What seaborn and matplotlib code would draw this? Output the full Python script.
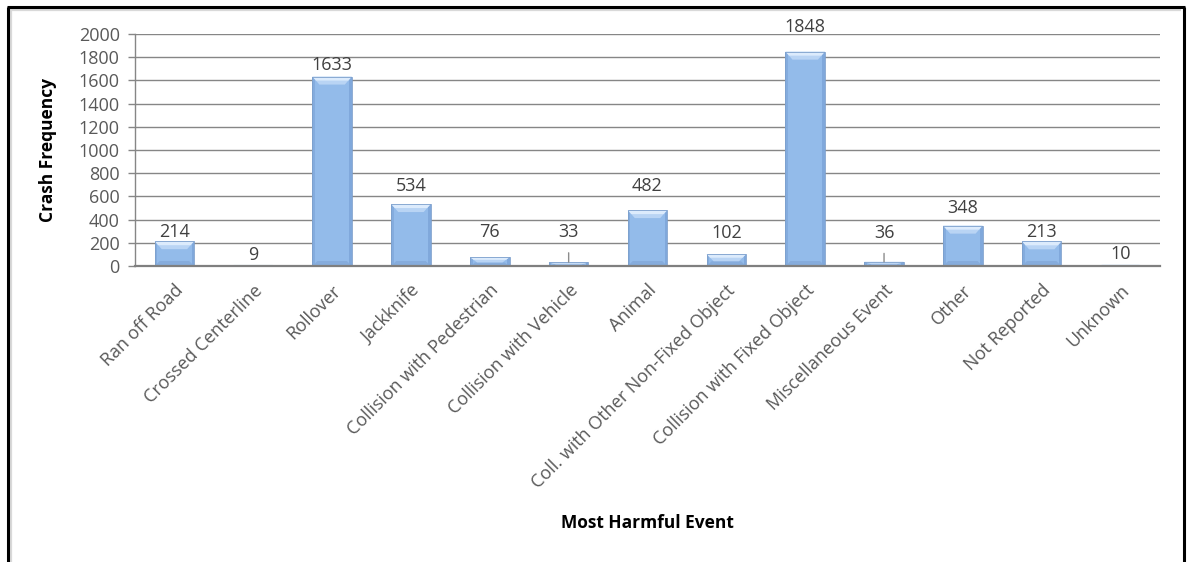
import matplotlib
matplotlib.use("Agg")
import matplotlib.pyplot as plt
import seaborn as sns
import pandas as pd
from matplotlib.patches import Polygon
from matplotlib.lines import Line2D

# ---- data -------------------------------------------------------------
events = [
    "Ran off Road", "Crossed Centerline", "Rollover", "Jackknife",
    "Collision with Pedestrian", "Collision with Vehicle", "Animal",
    "Coll. with Other Non-Fixed Object", "Collision with Fixed Object",
    "Miscellaneous Event", "Other", "Not Reported", "Unknown",
]
crashes = [214, 9, 1633, 534, 76, 33, 482, 102, 1848, 36, 348, 213, 10]
y_ticks = list(range(0, 2001, 200))

# ---- styling ----------------------------------------------------------
# distance (points) of each value label above its bar top
label_lift = [6.5, 7.2, 8.4, 13, 18, 21.6, 17.3, 15.1, 18, 20.9, 12.7, 6.5, 7.9]
leader_events = {"Collision with Vehicle", "Miscellaneous Event"}

sns.set_theme(style="white")
plt.rcParams["font.family"] = ["Open Sans", "DejaVu Sans"]

W, H = 1188, 562
fig = plt.figure(figsize=(W / 100, H / 100), dpi=100)
ax = fig.add_axes([135 / W, 1 - 266 / H, (1160 - 135) / W, (266 - 34) / H])

df = pd.DataFrame({"event": events, "crashes": crashes})
sns.barplot(data=df, x="event", y="crashes", color="#93BBEA", width=0.5,
            saturation=1, edgecolor="none", linewidth=0, ax=ax, zorder=3)

ax.set_ylim(0, 2000)
ax.set_yticks(y_ticks)

# bevelled look on each bar
px_x = (ax.get_xlim()[1] - ax.get_xlim()[0]) / (1160 - 135)
px_y = 2000 / (266 - 34)
for p in list(ax.patches):
    x0, w, h = p.get_x(), p.get_width(), p.get_height()
    if h <= 0:
        continue
    x1 = x0 + w
    tx, ty = min(7 * px_x, w / 2), min(8 * px_y, h * 0.6)
    sx = 2.5 * px_x
    bx, by = min(5 * px_x, w / 2), min(5 * px_y, h * 0.4)
    faces = [
        # side strips
        ([(x0, 0), (x0 + sx, 0), (x0 + sx, h), (x0, h)], "#84ACDE"),
        ([(x1 - sx, 0), (x1, 0), (x1, h), (x1 - sx, h)], "#80A8DB"),
        # bottom chamfer
        ([(x0, 0), (x1, 0), (x1 - bx, by), (x0 + bx, by)], "#86ACDC"),
        # top chamfer, two tones for a soft gradient
        ([(x0, h), (x1, h), (x1 - tx, h - ty), (x0 + tx, h - ty)], "#B9D4F4"),
        ([(x0, h), (x1, h), (x1 - tx * 0.5, h - ty * 0.5), (x0 + tx * 0.5, h - ty * 0.5)], "#DCEBFC"),
    ]
    for pts, col in faces:
        ax.add_patch(Polygon(pts, closed=True, facecolor=col, edgecolor="none", zorder=3.5))
    ax.add_patch(Polygon([(x0, 0), (x1, 0), (x1, h), (x0, h)], closed=True,
                         facecolor="none", edgecolor="#7C9FCC", lw=0.6, zorder=3.6))

# value labels
for i, (name, v, lift) in enumerate(zip(events, crashes, label_lift)):
    kw = {}
    if name in leader_events:
        kw["arrowprops"] = dict(arrowstyle="-", color="#8C8C8C", lw=1.0,
                                relpos=(0.5, 0), shrinkA=6, shrinkB=0)
    ax.annotate(str(v), xy=(i, v), xytext=(0, lift), textcoords="offset points",
                ha="center", va="center", fontsize=13, color="#404040", zorder=5, **kw)

# axes, grid and ticks
ax.yaxis.grid(True, color="#868686", lw=1.0, zorder=0)
ax.xaxis.grid(False)
ax.set_axisbelow(True)
for s in ("top", "right"):
    ax.spines[s].set_visible(False)
ax.spines["left"].set_color("#868686")
ax.spines["left"].set_linewidth(1.0)
ax.spines["bottom"].set_color("#7F7F7F")
ax.spines["bottom"].set_linewidth(1.6)
ax.spines["bottom"].set_zorder(4)

ax.tick_params(axis="y", left=True, length=5, width=1, color="#868686",
               labelsize=13, labelcolor="#595959", pad=6)
ax.tick_params(axis="x", bottom=False, length=0, labelsize=13,
               labelcolor="#595959", pad=11)
plt.setp(ax.get_xticklabels(), rotation=45, ha="right", va="top",
         rotation_mode="anchor")

ax.set_xlabel("Most Harmful Event", fontsize=12.5, fontweight="bold",
              color="black", va="center")
ax.xaxis.set_label_coords(0.5, (266 - 523) / 232)
ax.set_ylabel("Crash Frequency", fontsize=12.5, fontweight="bold",
              color="black", va="center")
ax.yaxis.set_label_coords((48 - 135) / 1025, 0.5)

# outer frame (open at the bottom)
def fx(x):
    return x / W


def fy(y):
    return 1 - y / H


for xs, ys, col, lw in [
    ([fx(10.5), fx(10.5)], [fy(9), fy(H)], "#D9D9D9", 1.6),
    ([fx(9), fx(1181)], [fy(9.5), fy(9.5)], "#D9D9D9", 1.6),
    ([fx(8), fx(8)], [fy(6.5), fy(H)], "black", 2.2),
    ([fx(6.5), fx(1184.5)], [fy(7), fy(7)], "black", 2.2),
    ([fx(1184), fx(1184)], [fy(6.5), fy(H)], "black", 2.2),
]:
    fig.add_artist(Line2D(xs, ys, color=col, lw=lw, solid_capstyle="butt"))

fig.savefig("out.png", dpi=100, facecolor="white")
